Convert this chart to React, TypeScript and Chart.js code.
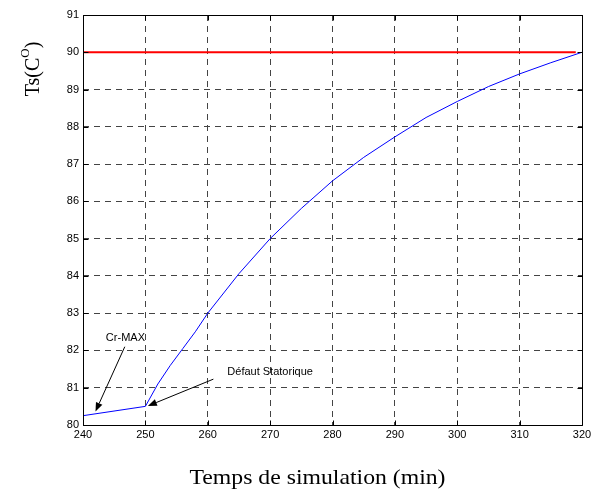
import React, { useEffect, useRef } from "react";
import { Chart, registerables } from "chart.js";

Chart.register(...registerables);

// Blue curve: Ts versus simulation time
const timeMin = [240, 250, 252, 254, 256, 258, 260, 265, 270, 275, 280, 285, 290, 295, 300, 305, 310, 315, 320];
const tempTs = [80.25, 80.5, 81.1, 81.6, 82.05, 82.5, 83.0, 84.06, 85.0, 85.81, 86.55, 87.18, 87.73, 88.25, 88.68, 89.08, 89.42, 89.72, 90.0];

// Red limit line
const limitTime = [240, 319];
const limitTemp = [90, 90];

// Axis ranges / ticks
const xTicks = [240, 250, 260, 270, 280, 290, 300, 310, 320];
const yTicks = [80, 81, 82, 83, 84, 85, 86, 87, 88, 89, 90, 91];

// Annotations (data coordinates)
const annoLabels = ["Cr-MAX", "Défaut Statorique"];
const annoTextX = [246.8, 270.0];
const annoTextY = [82.33, 81.43];
const arrowFromX = [246.7, 260.9];
const arrowFromY = [82.1, 81.23];
const arrowToX = [242.0, 250.4];
const arrowToY = [80.36, 80.51];

const xTitle = "Temps de simulation (min)";
const yTitleMain = "Ts(C";
const yTitleSup = "O";
const yTitleEnd = ")";

const decorPlugin = {
  id: "decor",
  afterDatasetsDraw(chart: any) {
    const { ctx, chartArea: a, scales } = chart;
    const xs = scales.x;
    const ys = scales.y;
    const px = (v: number) => Math.round(v) + 0.5;
    ctx.save();
    // frame
    ctx.strokeStyle = "#000";
    ctx.lineWidth = 1;
    ctx.setLineDash([]);
    const L = px(a.left), R = px(a.right), T = px(a.top), B = px(a.bottom);
    ctx.beginPath();
    ctx.rect(L, T, R - L, B - T);
    ctx.stroke();
    // inward ticks
    ctx.beginPath();
    xTicks.forEach((v) => {
      const x = px(xs.getPixelForValue(v));
      ctx.moveTo(x, B);
      ctx.lineTo(x, B - 5);
      ctx.moveTo(x, T);
      ctx.lineTo(x, T + 5);
    });
    yTicks.forEach((v) => {
      const y = px(ys.getPixelForValue(v));
      ctx.moveTo(L, y);
      ctx.lineTo(L + 5, y);
      ctx.moveTo(R, y);
      ctx.lineTo(R - 5, y);
    });
    ctx.stroke();

    // annotations
    ctx.fillStyle = "#000";
    ctx.font = "11px 'Liberation Sans', Arial, sans-serif";
    ctx.textAlign = "center";
    ctx.textBaseline = "middle";
    annoLabels.forEach((lab, i) => {
      ctx.fillText(lab, xs.getPixelForValue(annoTextX[i]), ys.getPixelForValue(annoTextY[i]));
      const x1 = xs.getPixelForValue(arrowFromX[i]);
      const y1 = ys.getPixelForValue(arrowFromY[i]);
      const x2 = xs.getPixelForValue(arrowToX[i]);
      const y2 = ys.getPixelForValue(arrowToY[i]);
      const ang = Math.atan2(y2 - y1, x2 - x1);
      const hl = 9, hw = 3.5;
      const bx = x2 - hl * Math.cos(ang);
      const by = y2 - hl * Math.sin(ang);
      ctx.beginPath();
      ctx.moveTo(x1, y1);
      ctx.lineTo(bx, by);
      ctx.stroke();
      ctx.beginPath();
      ctx.moveTo(x2, y2);
      ctx.lineTo(bx + hw * Math.sin(ang), by - hw * Math.cos(ang));
      ctx.lineTo(bx - hw * Math.sin(ang), by + hw * Math.cos(ang));
      ctx.closePath();
      ctx.fill();
    });

    // x title (slightly widened like the reference)
    ctx.save();
    ctx.font = "21px 'Liberation Serif', 'Times New Roman', serif";
    ctx.textAlign = "center";
    ctx.textBaseline = "alphabetic";
    const cx = (a.left + a.right) / 2 - 15;
    ctx.translate(cx, 484);
    ctx.scale(1.13, 1);
    ctx.fillText(xTitle, 0, 0);
    ctx.restore();

    // y title (rotated, with superscript)
    ctx.translate(34, 69);
    ctx.rotate(-Math.PI / 2);
    const mainFont = "20px 'Liberation Serif', 'Times New Roman', serif";
    const supFont = "13px 'Liberation Serif', 'Times New Roman', serif";
    ctx.font = mainFont;
    const w1 = ctx.measureText(yTitleMain).width;
    const w3 = ctx.measureText(yTitleEnd).width;
    ctx.font = supFont;
    const w2 = ctx.measureText(yTitleSup).width;
    const total = w1 + w2 + w3;
    let x0 = -total / 2;
    ctx.textAlign = "left";
    ctx.font = mainFont;
    ctx.fillText(yTitleMain, x0, 0);
    x0 += w1;
    ctx.font = supFont;
    ctx.fillText(yTitleSup, x0, -8);
    x0 += w2;
    ctx.font = mainFont;
    ctx.fillText(yTitleEnd, x0, 0);
    ctx.restore();
  },
};

export default function App() {
  const ref = useRef<HTMLCanvasElement | null>(null);
  useEffect(() => {
    document.body.style.margin = "0";
    const canvas = ref.current!;
    const tickFont = { family: "'Liberation Sans', Arial, sans-serif", size: 11 };
    const chart = new Chart(canvas, {
      type: "scatter",
      data: {
        datasets: [
          {
            data: limitTime.map((t, i) => ({ x: t, y: limitTemp[i] })),
            showLine: true,
            borderColor: "#ff0000",
            borderWidth: 2,
            pointRadius: 0,
          },
          {
            data: timeMin.map((t, i) => ({ x: t, y: tempTs[i] })),
            showLine: true,
            borderColor: "#0000ff",
            borderWidth: 1,
            pointRadius: 0,
            tension: 0,
          },
        ],
      },
      options: {
        animation: false,
        responsive: false,
        events: [],
        layout: { padding: { left: 0, right: 16, top: 15, bottom: 0 } },
        plugins: { legend: { display: false }, tooltip: { enabled: false } },
        scales: {
          x: {
            type: "linear",
            min: 240,
            max: 320,
            afterFit: (s: any) => {
              s.height = 64;
            },
            afterBuildTicks: (s: any) => {
              s.ticks = xTicks.map((v) => ({ value: v }));
            },
            ticks: { color: "#000", font: tickFont, padding: 3, maxRotation: 0, autoSkip: false },
            grid: { color: "#444", lineWidth: 1, drawTicks: false },
            border: { display: false, dash: [6, 5] },
          },
          y: {
            type: "linear",
            min: 80,
            max: 91,
            afterFit: (s: any) => {
              s.width = 83;
            },
            afterBuildTicks: (s: any) => {
              s.ticks = yTicks.map((v) => ({ value: v }));
            },
            ticks: { color: "#000", font: tickFont, padding: 4, autoSkip: false },
            grid: { color: "#444", lineWidth: 1, drawTicks: false },
            border: { display: false, dash: [6, 5] },
          },
        },
      },
      plugins: [decorPlugin],
    } as any);
    return () => chart.destroy();
  }, []);
  return <canvas ref={ref} width={598} height={489} style={{ display: "block" }} />;
}
